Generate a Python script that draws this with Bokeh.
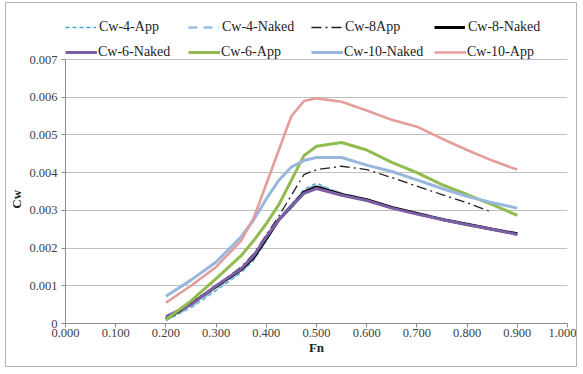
from bokeh.plotting import figure
from bokeh.models import Legend, LegendItem, FixedTicker
from bokeh.embed import file_html
from bokeh.resources import INLINE

fn = [0.2, 0.25, 0.3, 0.35, 0.375, 0.4, 0.425, 0.45, 0.475, 0.5, 0.55, 0.6, 0.65, 0.7, 0.75, 0.8, 0.85, 0.9]
cw_4_app = [0.08, 0.42, 0.88, 1.35, 1.68, 2.2, 2.75, 3.15, 3.55, 3.72, 3.42, 3.28, 3.06, 2.9, 2.78, 2.62, 2.5, 2.38]
cw_4_naked = [0.1, 0.45, 0.92, 1.38, 1.72, 2.22, 2.78, 3.15, 3.5, 3.68, 3.45, 3.28, 3.07, 2.92, 2.77, 2.63, 2.5, 2.37]
fn_8app = fn[:-1]
cw_8_app = [0.15, 0.55, 1.0, 1.5, 1.85, 2.35, 2.85, 3.4, 3.95, 4.08, 4.17, 4.08, 3.87, 3.64, 3.42, 3.2, 2.95]
cw_8_naked = [0.12, 0.52, 0.98, 1.43, 1.75, 2.25, 2.75, 3.1, 3.48, 3.62, 3.42, 3.28, 3.08, 2.92, 2.76, 2.63, 2.5, 2.38]
cw_6_naked = [0.18, 0.5, 1.0, 1.45, 1.8, 2.3, 2.75, 3.1, 3.45, 3.58, 3.4, 3.26, 3.06, 2.9, 2.76, 2.62, 2.5, 2.36]
cw_6_app = [0.1, 0.6, 1.19, 1.8, 2.2, 2.65, 3.15, 3.8, 4.45, 4.7, 4.8, 4.6, 4.27, 4.0, 3.68, 3.42, 3.15, 2.87]
cw_10_naked = [0.72, 1.15, 1.63, 2.3, 2.75, 3.3, 3.8, 4.15, 4.32, 4.4, 4.4, 4.2, 4.03, 3.81, 3.58, 3.37, 3.2, 3.06]
cw_10_app = [0.55, 1.0, 1.5, 2.2, 2.8, 3.7, 4.6, 5.5, 5.9, 5.97, 5.88, 5.65, 5.4, 5.22, 4.9, 4.6, 4.32, 4.08]

x_ticks = [0.0, 0.1, 0.2, 0.3, 0.4, 0.5, 0.6, 0.7, 0.8, 0.9, 1.0]
x_tick_labels = ["0.000", "0.100", "0.200", "0.300", "0.400", "0.500", "0.600", "0.700", "0.800", "0.900", "1.000"]
y_ticks = [0.0, 0.001, 0.002, 0.003, 0.004, 0.005, 0.006, 0.007]
y_tick_labels = ["0", "0.001", "0.002", "0.003", "0.004", "0.005", "0.006", "0.007"]
y_max = 0.007

def sc(v):
    return [a / 1000.0 for a in v]

FONT = "Liberation Serif"

# frame spans local y 0..320; y_max sits 56 px below the frame top (room for legend rows)
FRAME_H = 320
TOP_ROOM = 56
p = figure(width=572, height=365, output_backend="svg", toolbar_location=None,
           x_range=(0, 1), y_range=(0, y_max * FRAME_H / (FRAME_H - TOP_ROOM)),
           min_border_left=57, min_border_right=11, min_border_top=0, min_border_bottom=45)
p.styles = {"border": "1px solid #b4b4b4", "margin-left": "5px", "margin-top": "2px"}
p.outline_line_color = None
p.background_fill_color = "white"
p.border_fill_color = "white"

p.xgrid.grid_line_color = None
p.ygrid.grid_line_color = "#bfbfbf"
p.ygrid.grid_line_width = 1

for ax in (p.xaxis[0], p.yaxis[0]):
    ax.axis_line_color = "#8c8c8c"
    ax.major_tick_line_color = "#8c8c8c"
    ax.major_tick_out = 4
    ax.major_tick_in = 0
    ax.minor_tick_out = 0
    ax.minor_tick_in = 0
    ax.major_label_text_font = FONT
    ax.major_label_text_font_size = "12.5px"
    ax.major_label_text_color = "#404040"
    ax.axis_label_text_font = FONT
    ax.axis_label_text_font_style = "bold"
    ax.axis_label_text_font_size = "13px"
    ax.axis_label_text_color = "#222222"

p.xaxis[0].ticker = FixedTicker(ticks=x_ticks)
p.xaxis[0].major_label_overrides = {t: l for t, l in zip(x_ticks, x_tick_labels)}
p.yaxis[0].ticker = FixedTicker(ticks=y_ticks)
p.yaxis[0].major_label_overrides = {t: l for t, l in zip(y_ticks, y_tick_labels)}
p.yaxis[0].bounds = (0, y_max)
p.xaxis[0].axis_label = "Fn"
p.yaxis[0].axis_label = "Cw" + "\u00a0" * 22
p.xaxis[0].major_label_standoff = 1
p.yaxis[0].major_label_standoff = 4
p.xaxis[0].axis_label_standoff = 0
p.yaxis[0].axis_label_standoff = 2

r_4app = p.line(fn, sc(cw_4_app), line_color="#3ea8cf", line_width=1.6, line_dash="4 3")
r_4nak = p.line(fn, sc(cw_4_naked), line_color="#9dbfe3", line_width=2.6, line_dash="9 6")
r_8app = p.line(fn_8app, sc(cw_8_app), line_color="#222222", line_width=1.3, line_dash="10 4 2 4")
r_8nak = p.line(fn, sc(cw_8_naked), line_color="#000000", line_width=3)
r_6nak = p.line(fn, sc(cw_6_naked), line_color="#7d5fa6", line_width=3)
r_6app = p.line(fn, sc(cw_6_app), line_color="#92bb4f", line_width=3)
r_10nak = p.line(fn, sc(cw_10_naked), line_color="#97b7dd", line_width=3)
r_10app = p.line(fn, sc(cw_10_app), line_color="#e39e9b", line_width=2.6)

def make_legend(items, vy, gw, standoff, lw):
    return Legend(items=[LegendItem(label=l, renderers=[r]) for l, r in items],
                  orientation="horizontal", location=(0, vy),
                  glyph_width=gw, glyph_height=16, label_height=16, label_width=lw,
                  label_standoff=standoff, spacing=2, padding=0, margin=0,
                  border_line_alpha=0, background_fill_alpha=0,
                  label_text_font=FONT, label_text_font_size="14px", label_text_color="#222222")

lg1 = make_legend([("Cw-4-App", r_4app), ("Cw-4-Naked", r_4nak), ("Cw-8App", r_8app), ("Cw-8-Naked", r_8nak)],
                  288, 31, 3, 87)
lg2 = make_legend([("Cw-6-Naked", r_6nak), ("Cw-6-App", r_6app), ("Cw-10-Naked", r_10nak), ("Cw-10-App", r_10app)],
                  263, 32, 1, 88)
p.add_layout(lg1, "center")
p.add_layout(lg2, "center")

open("out.html", "w").write(file_html(p, INLINE))
